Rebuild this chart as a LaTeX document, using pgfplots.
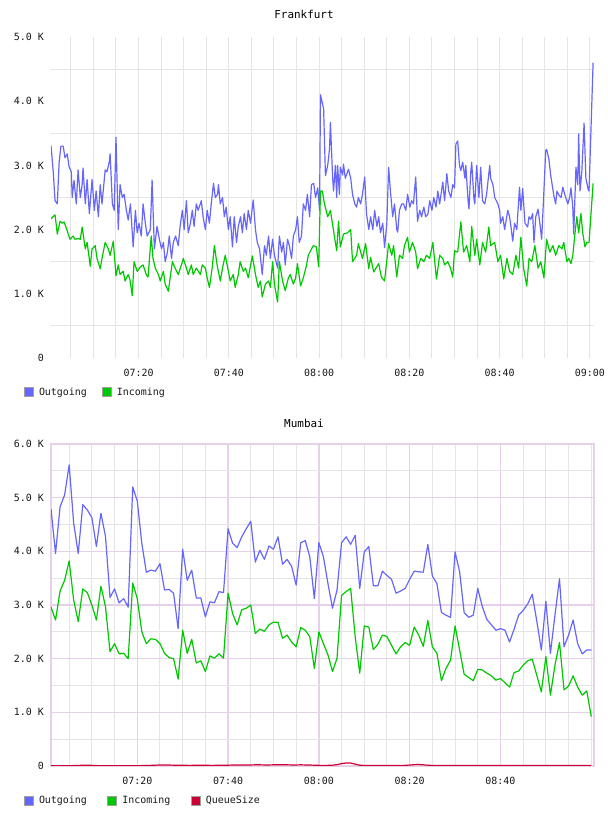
\documentclass[border=0pt]{standalone}
\usepackage{fontspec}
\setmainfont{DejaVu Sans Mono}
\usepackage{pgfplots}
\usepackage{pgfplotstable}
\pgfplotsset{compat=1.18}
\definecolor{outc}{RGB}{102,102,255}
\definecolor{inc}{RGB}{0,200,0}
\definecolor{qc}{RGB}{204,0,51}
\definecolor{gridg}{RGB}{228,228,228}
\definecolor{gridp}{RGB}{230,208,234}
\definecolor{txt}{RGB}{25,25,25}

\pgfplotstableread{
m out in q
1 4.79 2.96 0.005
2 3.96 2.72 0.005
3 4.83 3.26 0.005
4 5.05 3.46 0.005
5 5.61 3.82 0.005
6 4.52 3.09 0.008
7 3.96 2.69 0.010
8 4.87 3.30 0.015
9 4.77 3.23 0.015
10 4.63 3.00 0.012
11 4.09 2.72 0.008
12 4.71 3.35 0.005
13 4.28 2.97 0.005
14 3.14 2.13 0.005
15 3.30 2.28 0.005
16 3.04 2.09 0.005
17 3.12 2.10 0.005
18 2.96 2.00 0.005
19 5.20 3.41 0.005
20 4.94 3.12 0.005
21 4.15 2.50 0.008
22 3.61 2.28 0.010
23 3.65 2.37 0.012
24 3.63 2.36 0.015
25 3.77 2.28 0.020
26 3.28 2.10 0.020
27 3.29 2.02 0.018
28 3.22 2.00 0.015
29 2.56 1.62 0.015
30 4.04 2.53 0.015
31 3.46 2.10 0.012
32 3.65 2.36 0.012
33 3.13 1.92 0.015
34 3.13 1.96 0.015
35 2.78 1.76 0.015
36 3.06 2.05 0.012
37 3.04 2.01 0.012
38 3.25 2.09 0.015
39 3.23 2.01 0.015
40 4.42 3.22 0.015
41 4.15 2.84 0.018
42 4.07 2.63 0.018
43 4.27 2.91 0.020
44 4.42 2.94 0.020
45 4.56 3.00 0.020
46 3.80 2.47 0.022
47 4.02 2.55 0.022
48 3.85 2.51 0.020
49 4.10 2.63 0.020
50 4.04 2.68 0.022
51 4.27 2.68 0.025
52 3.76 2.38 0.025
53 3.85 2.44 0.022
54 3.72 2.31 0.020
55 3.37 2.22 0.020
56 4.16 2.58 0.022
57 4.20 2.53 0.020
58 3.90 2.41 0.018
59 3.12 1.82 0.015
60 4.16 2.50 0.012
61 3.90 2.28 0.012
62 3.40 2.07 0.012
63 2.94 1.76 0.015
64 3.28 2.01 0.025
65 4.16 3.18 0.045
66 4.27 3.25 0.055
67 4.13 3.31 0.055
68 4.30 2.41 0.035
69 3.31 1.73 0.015
70 3.99 2.61 0.010
71 4.09 2.59 0.010
72 3.36 2.17 0.010
73 3.36 2.27 0.010
74 3.63 2.44 0.010
75 3.55 2.41 0.010
76 3.48 2.25 0.010
77 3.22 2.09 0.010
78 3.26 2.22 0.010
79 3.31 2.30 0.012
80 3.48 2.25 0.018
81 3.63 2.59 0.025
82 3.62 2.44 0.028
83 3.61 2.23 0.022
84 4.13 2.71 0.015
85 3.54 2.22 0.010
86 3.40 2.10 0.008
87 2.86 1.59 0.008
88 2.81 1.82 0.008
89 2.77 1.97 0.008
90 3.99 2.61 0.008
91 3.62 2.16 0.008
92 2.86 1.71 0.008
93 2.77 1.65 0.008
94 2.81 1.59 0.008
95 3.31 1.80 0.008
96 2.97 1.79 0.008
97 2.73 1.73 0.008
98 2.63 1.68 0.008
99 2.53 1.60 0.008
100 2.56 1.63 0.008
101 2.53 1.55 0.008
102 2.31 1.47 0.008
103 2.55 1.74 0.008
104 2.81 1.77 0.008
105 2.90 1.88 0.008
106 3.02 1.96 0.008
107 3.20 1.99 0.008
108 2.70 1.69 0.008
109 2.16 1.38 0.008
110 3.07 2.04 0.008
111 2.10 1.32 0.008
112 2.81 1.88 0.008
113 3.49 2.30 0.008
114 2.22 1.42 0.008
115 2.44 1.49 0.008
116 2.72 1.68 0.008
117 2.28 1.47 0.008
118 2.09 1.32 0.008
119 2.16 1.40 0.008
120 2.16 0.92 0.008
}\mumbai

\pgfplotsset{
  mystyle/.style={
    scale only axis, width=543bp, anchor=south west,
    /pgf/number format/assume math mode=true,
    tick label style={font=\fontsize{10}{12}\selectfont, text=txt},
    yticklabel style={anchor=east, inner sep=0pt, xshift=-7bp},
    xticklabel style={anchor=north, inner sep=0pt, yshift=-11bp},
    major tick length=0pt, minor tick length=0pt,
    legend columns=-1,
    legend style={draw=none, fill=none, inner sep=0pt, outer sep=0pt,
      font=\fontsize{10}{12}\selectfont, text=txt,
      nodes={inner sep=0pt, anchor=west}, cells={anchor=west},
      at={(0,0)}, anchor=west, xshift=-27bp,
      /tikz/every odd column/.append style={column sep=5bp}},
    title style={font=\fontsize{11}{13}\selectfont, text=black, at={(0.5,1)}, anchor=center, xshift=-18.5bp},
    every axis plot/.append style={line width=1.2bp, line join=round},
  },
  sq/.style={legend image code/.code={\draw[draw=gray!75, line width=1bp, fill=#1] (0.5bp,-4.5bp) rectangle (9.5bp,4.5bp);}},
}

\begin{document}
\begin{tikzpicture}
\useasboundingbox (0,0) rectangle (608bp,816bp);

\begin{axis}[mystyle, at={(51bp,458bp)}, height=321bp,
  xmin=0.6, xmax=120.9, ymin=0, ymax=5,
  xtick={20,40,60,80,100,120},
  xticklabels={07:20,07:40,08:00,08:20,08:40,09:00},
  minor xtick={5,10,...,120},
  ytick={0,1,2,3,4,5},
  yticklabels={0,1.0 K,2.0 K,3.0 K,4.0 K,5.0 K},
  minor ytick={0.5,1.5,2.5,3.5,4.5},
  xminorgrids, yminorgrids,
  minor grid style={gridg, line width=1bp},
  axis line style={draw=none},
  title={Frankfurt}, title style={yshift=16.3bp},
  legend style={yshift=-34bp, /tikz/every even column/.append style={column sep=15bp}},
]
\addplot[outc, sq=outc] coordinates {
(0.6,3.31)(1.1,2.90)(1.5,2.45)(2.0,2.40)(2.4,3.05)(2.8,3.30)(3.3,3.30)(3.7,3.12)(4.2,3.18)(4.6,2.98)(5.1,2.90)(5.3,2.50)(5.7,2.77)(6.2,2.40)(6.6,2.93)(7.1,2.50)(7.5,2.70)(7.7,2.96)(8.2,2.40)(8.6,2.78)(9.1,2.25)(9.7,2.78)(10.2,2.30)(10.6,2.60)(11.1,2.20)(11.5,2.70)(11.9,2.40)(12.6,2.93)(13.0,2.90)(13.5,3.05)(13.7,3.18)(14.2,2.40)(14.6,2.30)(15.0,3.44)(15.5,2.00)(15.9,2.70)(16.4,2.50)(16.8,2.55)(17.3,2.30)(17.7,2.15)(18.2,2.40)(18.8,1.73)(19.3,2.30)(19.7,1.95)(20.1,2.10)(20.6,1.90)(21.0,2.40)(21.5,2.10)(21.9,1.90)(22.6,2.00)(23.0,2.77)(23.5,1.70)(24.1,2.05)(24.6,1.85)(25.1,1.70)(25.5,1.80)(25.9,1.50)(26.4,1.65)(26.8,1.90)(27.3,1.55)(27.7,1.80)(28.2,1.90)(28.8,1.75)(29.2,2.05)(29.7,2.30)(30.1,2.00)(30.6,2.45)(31.0,1.95)(31.5,2.10)(31.9,2.30)(32.3,2.05)(32.8,2.40)(33.2,2.30)(33.9,2.45)(34.3,2.20)(34.8,2.00)(35.2,2.30)(35.7,2.10)(36.1,2.40)(36.6,2.72)(37.0,2.50)(37.5,2.55)(37.7,2.70)(38.1,2.40)(38.6,2.50)(39.0,2.20)(39.4,2.35)(39.9,2.00)(40.3,2.20)(40.8,1.73)(41.2,2.20)(41.7,1.80)(42.1,2.05)(42.6,2.20)(43.0,1.95)(43.4,2.25)(43.9,2.00)(44.3,2.30)(44.8,2.10)(45.4,2.46)(45.9,2.00)(46.3,1.80)(46.8,1.70)(47.4,1.30)(47.9,1.75)(48.3,1.60)(48.8,1.90)(49.2,1.55)(49.7,1.85)(50.1,1.60)(50.8,1.40)(51.2,1.90)(51.7,1.65)(52.1,1.80)(52.5,1.45)(53.0,1.85)(53.4,1.75)(53.9,1.55)(54.3,1.90)(54.8,2.00)(55.2,2.20)(55.6,1.80)(56.1,1.90)(56.5,2.40)(57.0,2.30)(57.4,2.55)(57.9,2.20)(58.3,2.70)(58.8,2.72)(59.2,2.50)(59.7,2.65)(60.1,2.30)(60.3,4.10)(61.0,3.88)(61.4,2.84)(61.9,3.00)(62.3,3.25)(62.5,3.67)(63.0,2.80)(63.2,2.60)(63.6,3.00)(63.9,2.50)(64.1,3.00)(64.5,2.55)(64.7,2.97)(65.2,2.85)(65.4,3.02)(65.8,2.80)(66.3,2.90)(66.5,2.94)(67.0,2.80)(67.4,2.55)(67.9,2.40)(68.3,2.35)(68.7,2.50)(69.2,2.40)(69.6,2.55)(70.1,2.82)(70.5,2.25)(71.0,2.00)(71.4,2.20)(71.9,2.00)(72.3,2.30)(72.8,2.05)(73.2,2.20)(73.6,1.95)(74.1,2.10)(74.5,1.72)(75.0,2.10)(75.4,2.97)(75.8,2.60)(76.3,2.20)(76.7,2.40)(77.2,2.00)(77.4,1.96)(77.8,2.30)(78.3,2.40)(78.7,2.40)(79.2,2.30)(79.6,2.55)(80.1,2.35)(80.5,2.45)(80.9,2.40)(81.4,2.82)(81.8,2.13)(82.3,2.30)(82.7,2.20)(83.2,2.35)(83.6,2.20)(84.1,2.24)(84.5,2.45)(85.0,2.30)(85.4,2.50)(85.9,2.35)(86.3,2.60)(86.7,2.40)(87.4,2.74)(87.8,2.45)(88.3,2.87)(88.7,2.60)(89.2,2.50)(89.6,2.70)(90.0,2.65)(90.3,3.33)(90.7,3.38)(91.1,3.00)(91.4,2.92)(91.8,3.05)(92.3,2.80)(92.5,3.00)(93.0,2.45)(93.2,2.32)(93.6,2.90)(93.8,3.05)(94.3,2.48)(94.5,2.40)(94.9,3.00)(95.4,2.50)(95.8,2.97)(96.2,2.45)(96.7,2.40)(97.1,2.55)(97.8,3.00)(98.0,2.80)(98.5,2.70)(98.9,2.50)(99.6,2.40)(100.0,2.30)(100.2,2.10)(100.7,2.20)(101.1,2.00)(101.8,2.30)(102.2,2.20)(102.5,2.05)(102.9,1.82)(103.3,2.10)(103.8,2.00)(104.4,2.66)(104.7,2.30)(105.1,2.64)(105.6,2.10)(106.2,2.04)(106.5,2.20)(106.9,2.16)(107.3,2.25)(107.6,1.80)(108.0,2.20)(108.5,2.32)(108.9,2.10)(109.3,1.85)(109.8,2.60)(110.2,3.23)(110.4,3.25)(110.9,3.10)(111.3,2.85)(112.0,2.53)(112.4,2.40)(112.7,2.60)(113.1,2.54)(113.6,2.50)(114.0,2.66)(114.4,2.55)(115.1,2.40)(115.5,2.50)(115.8,2.65)(116.2,2.35)(116.4,1.93)(116.9,2.97)(117.3,2.70)(117.5,3.49)(117.8,2.60)(118.2,2.90)(118.7,3.66)(119.1,2.80)(119.6,2.63)(119.8,2.60)(120.7,4.60)
};
\addlegendentry{Outgoing}
\addplot[inc, sq=inc] coordinates {
(0.6,2.17)(1.5,2.23)(2.0,1.93)(2.6,2.13)(3.1,2.10)(3.5,2.12)(4.2,1.98)(4.8,1.85)(5.5,1.90)(5.9,1.85)(6.6,1.86)(7.1,1.85)(7.5,2.04)(8.2,1.70)(8.6,1.80)(9.3,1.43)(9.7,1.70)(10.4,1.75)(10.8,1.55)(11.5,1.39)(11.9,1.55)(12.6,1.80)(13.3,1.70)(13.7,1.60)(14.4,1.82)(15.0,1.28)(15.5,1.45)(15.9,1.30)(16.6,1.35)(17.0,1.20)(17.7,1.30)(18.1,1.22)(18.6,0.97)(19.0,1.50)(19.7,1.35)(20.4,1.42)(21.0,1.45)(21.7,1.30)(22.1,1.26)(22.8,1.90)(23.2,1.55)(23.7,1.40)(24.4,1.30)(24.8,1.20)(25.5,1.35)(25.9,1.15)(26.6,1.04)(27.0,1.25)(27.5,1.50)(28.1,1.40)(28.8,1.30)(29.5,1.45)(29.9,1.55)(30.6,1.40)(31.0,1.30)(31.7,1.45)(32.1,1.30)(32.8,1.40)(33.7,1.30)(34.1,1.45)(34.8,1.40)(35.2,1.25)(35.7,1.10)(36.3,1.40)(36.8,1.75)(37.4,1.45)(38.1,1.20)(38.6,1.40)(39.2,1.60)(39.9,1.35)(40.3,1.20)(41.0,1.30)(41.4,1.10)(42.1,1.30)(42.5,1.50)(43.2,1.35)(43.7,1.40)(44.3,1.25)(45.2,1.59)(45.9,1.30)(46.5,1.10)(47.0,1.20)(47.4,0.95)(48.1,1.15)(48.8,1.20)(49.2,1.10)(49.7,1.50)(50.1,1.15)(50.8,0.87)(51.2,1.50)(51.9,1.20)(52.5,1.05)(53.2,1.25)(53.6,1.30)(54.3,1.15)(54.8,1.25)(55.2,1.47)(55.9,1.12)(56.5,1.25)(57.2,1.44)(57.6,1.60)(58.1,1.67)(58.7,1.75)(59.4,1.73)(59.9,1.42)(60.3,2.60)(60.7,2.60)(61.2,2.40)(61.9,2.20)(62.5,2.30)(63.2,1.98)(63.9,1.67)(64.3,2.13)(64.7,1.73)(65.4,1.93)(66.3,1.95)(67.0,2.00)(67.4,1.50)(68.3,1.60)(68.7,1.78)(69.6,1.55)(70.3,1.78)(71.0,1.39)(71.4,1.57)(72.1,1.34)(73.2,1.47)(73.8,1.26)(74.5,1.20)(75.4,1.78)(76.1,1.60)(76.5,1.75)(77.2,1.26)(77.8,1.60)(78.5,1.55)(78.9,1.75)(79.6,1.88)(80.0,1.65)(80.7,1.80)(81.4,1.65)(81.8,1.39)(82.5,1.55)(83.2,1.50)(83.8,1.60)(84.5,1.55)(85.2,1.80)(86.0,1.23)(86.7,1.60)(87.4,1.55)(87.8,1.45)(88.5,1.50)(89.1,1.40)(89.6,1.26)(90.0,1.67)(90.7,1.65)(91.4,2.12)(92.0,1.65)(92.7,1.75)(93.4,1.50)(93.8,2.05)(94.5,1.60)(94.9,1.85)(95.6,1.45)(96.2,1.80)(96.9,1.65)(97.6,2.04)(98.0,1.75)(98.9,1.80)(99.6,1.50)(100.2,1.60)(100.9,1.23)(101.6,1.55)(102.2,1.35)(102.9,1.30)(103.6,1.60)(104.2,1.40)(104.7,1.88)(105.3,1.40)(106.0,1.12)(106.5,1.55)(107.1,1.50)(107.8,1.75)(108.5,1.40)(109.1,1.50)(109.8,1.25)(110.4,1.85)(111.1,1.65)(111.8,1.75)(112.4,1.60)(113.1,1.75)(113.8,1.70)(114.2,1.80)(114.9,1.50)(115.3,1.55)(115.8,1.47)(116.2,1.60)(116.7,1.95)(117.1,2.20)(117.5,1.95)(118.0,2.25)(118.4,1.95)(118.9,1.73)(119.3,1.80)(119.8,1.80)(120.7,2.72)
};
\addlegendentry{Incoming}
\end{axis}

\begin{axis}[mystyle, at={(51bp,50bp)}, height=322bp,
  xmin=1.0, xmax=120.6, ymin=0, ymax=6,
  xtick={20,40,60,80,100},
  xticklabels={07:20,07:40,08:00,08:20,08:40},
  minor xtick={5,10,15,25,30,35,45,50,55,65,70,75,85,90,95,105,110,115,120},
  ytick={0,1,2,3,4,5,6},
  yticklabels={0,1.0 K,2.0 K,3.0 K,4.0 K,5.0 K,6.0 K},
  minor ytick={0.5,1.5,2.5,3.5,4.5,5.5},
  grid=both,
  major grid style={gridp, line width=1.4bp},
  minor grid style={gridg, line width=1bp},
  axis line style={draw=gridp, line width=2bp},
  title={Mumbai}, title style={yshift=15bp},
  legend style={yshift=-34.7bp, /tikz/every even column/.append style={column sep=20.5bp}},
]
\addplot[outc, sq=outc] table[x=m, y=out] {\mumbai};
\addlegendentry{Outgoing}
\addplot[inc, sq=inc] table[x=m, y=in] {\mumbai};
\addlegendentry{Incoming}
\addplot[qc, sq=qc] table[x=m, y=q] {\mumbai};
\addlegendentry{QueueSize}
\end{axis}
\end{tikzpicture}
\end{document}
